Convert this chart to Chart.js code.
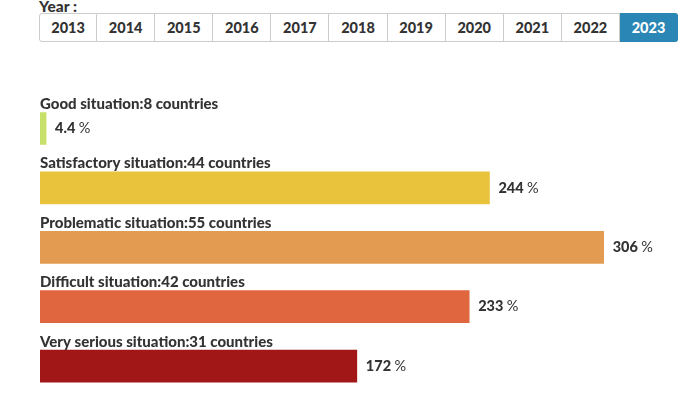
<!DOCTYPE html>
<html>
<head>
<meta charset="utf-8">
<script src="https://cdn.jsdelivr.net/npm/chart.js@4/dist/chart.umd.min.js"></script>
<style>
  body { margin: 0; background: #fff; font-family: Lato, "Open Sans", sans-serif; color: #333; }
  #wrap { position: relative; width: 695px; height: 399px; overflow: hidden; }
  #yearLabel { position: absolute; left: 39px; top: -2px; font-weight: 900; font-size: 15.5px; line-height: 16px; }
  #years { position: absolute; left: 39px; top: 13px; display: flex; }
  #years button {
    width: 58.1px; height: 29px; margin: 0; padding: 0;
    border: 1px solid #ccc; border-left: none; background: #fff;
    font: 900 14.5px Lato, sans-serif; color: #333;
  }
  #years button:first-child { border-left: 1px solid #ccc; border-radius: 3px 0 0 3px; }
  #years button.active { background: #2a86b4; border-color: #2a86b4; color: #fff; border-radius: 0 3px 3px 0; }
  #chartBox { position: absolute; left: 0; top: 50px; width: 695px; height: 349px; }
</style>
</head>
<body>
<div id="wrap">
  <div id="yearLabel">Year :</div>
  <div id="years"></div>
  <div id="chartBox"><canvas id="situationChart"></canvas></div>
</div>
<script>
const years = ["2013","2014","2015","2016","2017","2018","2019","2020","2021","2022","2023"];
const activeYear = "2023";

const situations = ["Good situation","Satisfactory situation","Problematic situation","Difficult situation","Very serious situation"];
const countries = [8, 44, 55, 42, 31];
// bar lengths as drawn (the good bar is only a thin sliver in the picture)
const barLengths = [0.33, 24.4, 30.6, 23.3, 17.2];
const valueLabels = ["4.4", "244", "306", "233", "172"];
const barColors = ["#c6e06a", "#eac33c", "#e39b52", "#df663e", "#a11616"];

// ================= Year buttons =================
const yearsEl = document.getElementById("years");
years.forEach(y => {
  const b = document.createElement("button");
  b.textContent = y;
  if (y === activeYear) b.classList.add("active");
  yearsEl.appendChild(b);
});

// ================= Labels plugin =================
const labelPlugin = {
  id: "situationLabels",
  afterDatasetsDraw(chart) {
    const ctx = chart.ctx;
    const meta = chart.getDatasetMeta(0);
    const left = chart.chartArea.left;
    ctx.save();
    ctx.fillStyle = "#333";
    meta.data.forEach((bar, i) => {
      const top = bar.y - bar.height / 2;
      ctx.font = "900 15px Lato, sans-serif";
      ctx.textBaseline = "alphabetic";
      ctx.textAlign = "left";
      ctx.fillText(situations[i] + ":" + countries[i] + " countries", left, top - 3.5);

      ctx.textBaseline = "middle";
      const x = bar.x + 9;
      ctx.font = "900 14.5px Lato, sans-serif";
      const num = valueLabels[i] + " ";
      ctx.fillText(num, x, bar.y);
      const w = ctx.measureText(num).width;
      ctx.font = "14.5px Lato, sans-serif";
      ctx.fillText("%", x + w, bar.y);
    });
    ctx.restore();
  }
};

new Chart(document.getElementById("situationChart").getContext("2d"), {
  type: "bar",
  data: {
    labels: situations,
    datasets: [{
      data: barLengths,
      backgroundColor: barColors,
      barThickness: 32,
      borderWidth: 0
    }]
  },
  options: {
    indexAxis: "y",
    responsive: true,
    maintainAspectRatio: false,
    animation: false,
    layout: { padding: { left: 40, right: 10.3, top: 48.8, bottom: 3.2 } },
    plugins: { legend: { display: false }, tooltip: { enabled: false } },
    scales: {
      x: { display: false, min: 0, max: 35 },
      y: { display: false }
    }
  },
  plugins: [labelPlugin]
});
</script>
</body>
</html>
